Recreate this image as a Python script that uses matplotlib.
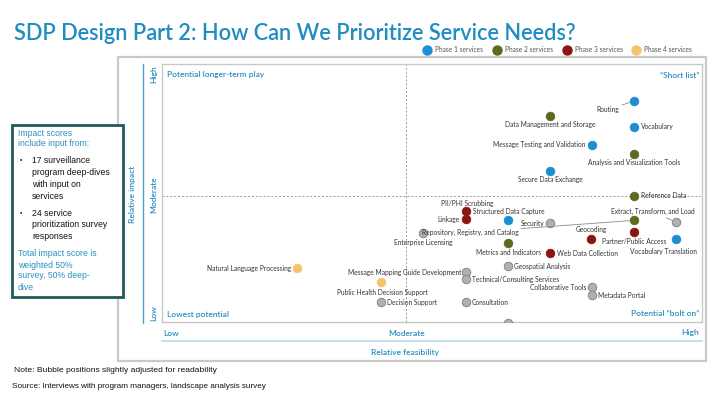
import matplotlib
matplotlib.use("Agg")
import matplotlib.pyplot as plt
from matplotlib.patches import Rectangle
from matplotlib.lines import Line2D

# ---------------- data ----------------
services = [
    "Routing", "Vocabulary", "Message Testing and Validation", "Secure Data Exchange",
    "PII/PHI Scrubbing", "Vocabulary Translation",
    "Data Management and Storage", "Analysis and Visualization Tools", "Reference Data",
    "Repository, Registry, and Catalog", "Metrics and Indicators",
    "Structured Data Capture", "Linkage", "Geocoding", "Partner/Public Access", "Web Data Collection",
    "Natural Language Processing", "Public Health Decision Support",
    "Security", "Extract, Transform, and Load", "Enterprise Licensing", "Geospatial Analysis",
    "Message Mapping Guide Development", "Technical/Consulting Services", "Collaborative Tools",
    "Metadata Portal", "Consultation", "Evaluation", "Decision Support",
]
feasibility = [8.74, 8.74, 7.96, 7.19, 6.41, 9.52,
               7.19, 8.74, 8.74, 8.74, 6.41,
               5.63, 5.63, 7.94, 8.74, 7.19,
               2.50, 4.06,
               7.19, 9.52, 4.83, 6.41, 5.63, 5.63, 7.96, 7.96, 5.63, 6.41, 4.06]
impact = [8.57, 7.57, 6.87, 5.87, 3.94, 3.20,
          7.99, 6.53, 4.90, 3.94, 3.05,
          4.29, 3.98, 3.20, 3.47, 2.66,
          2.08, 1.54,
          3.82, 3.86, 3.44, 2.16, 1.93, 1.66, 1.35, 1.04, 0.77, -0.04, 0.77]
phase = [1, 1, 1, 1, 1, 1,
         2, 2, 2, 2, 2,
         3, 3, 3, 3, 3,
         4, 4,
         0, 0, 0, 0, 0, 0, 0, 0, 0, 0, 0]
legend_labels = ["Phase 1 services", "Phase 2 services", "Phase 3 services", "Phase 4 services"]
x_levels = ["Low", "Moderate", "High"]
y_levels = ["Low", "Moderate", "High"]

# ---------------- layout / style ----------------
W, H = 720, 405
BLUE_TXT = "#2a8fc1"
phase_colors = {1: "#1b8fd2", 2: "#5b6b1e", 3: "#8b1510", 4: "#f6c36c", 0: "#b3b0ac"}
phase_edges = {1: "#1b8fd2", 2: "#5b6b1e", 3: "#8b1510", 4: "#f6c36c", 0: "#7f7f7f"}
# label placement (pixel offsets from dot, y up), ha, leader line
label_layout = {
    "Routing": (-26, -9, "center", True),
    "Vocabulary": (7, 0, "left", False),
    "Message Testing and Validation": (-6, 0, "right", False),
    "Secure Data Exchange": (0, -9, "center", False),
    "PII/PHI Scrubbing": (-41, 17, "center", False),
    "Vocabulary Translation": (-13, -12, "center", False),
    "Data Management and Storage": (0, -9, "center", False),
    "Analysis and Visualization Tools": (0, -9, "center", False),
    "Reference Data": (7, 0, "left", False),
    "Repository, Registry, and Catalog": (-164, -12, "center", True),
    "Metrics and Indicators": (0, -9, "center", False),
    "Structured Data Capture": (7, 0, "left", False),
    "Linkage": (-6, 0, "right", False),
    "Geocoding": (1, 10, "center", False),
    "Partner/Public Access": (0, -9, "center", False),
    "Web Data Collection": (7, 0, "left", False),
    "Natural Language Processing": (-6, 0, "right", False),
    "Public Health Decision Support": (1, -10, "center", False),
    "Security": (-6, 0, "right", False),
    "Extract, Transform, and Load": (-23, 11, "center", True),
    "Enterprise Licensing": (0, -9, "center", False),
    "Geospatial Analysis": (6, 0, "left", False),
    "Message Mapping Guide Development": (-5, 0, "right", False),
    "Technical/Consulting Services": (6, 0, "left", False),
    "Collaborative Tools": (-5, 0, "right", False),
    "Metadata Portal": (6, 0, "left", False),
    "Consultation": (6, 0, "left", False),
    "Evaluation": (0, 9, "center", False),
    "Decision Support": (6, 0, "left", False),
}

plt.rcParams["font.family"] = ["Lato", "DejaVu Sans"]

fig = plt.figure(figsize=(W / 100, H / 100), dpi=100)


def P(x, y):
    return x / W, 1 - y / H


# background frame
fig.patches.append(Rectangle(P(118, 361), (706 - 118) / W, (361 - 57) / H,
                             transform=fig.transFigure, fill=False,
                             edgecolor="#c9c9c9", lw=1.6, zorder=0))

# main plot area
pl, pr, pt, pb = 162, 702, 64, 322
ax = fig.add_axes([pl / W, 1 - pb / H, (pr - pl) / W, (pb - pt) / H])
ax.set_xlim(0, 10)
ax.set_ylim(0, 10)
for s in ax.spines.values():
    s.set_color("#c8c8c8")
    s.set_linewidth(1.0)
ax.set_xticks([])
ax.set_yticks([])
ax.axvline(4.52, color="#9a9a9a", lw=0.7, ls=(0, (2, 2)))
ax.axhline(4.90, color="#9a9a9a", lw=0.7, ls=(0, (2, 2)))

for name, x, y, ph in zip(services, feasibility, impact, phase):
    ax.scatter([x], [y], s=38, color=phase_colors[ph], edgecolor=phase_edges[ph],
               linewidth=0.6, zorder=3)
    dx, dy, ha, leader = label_layout[name]
    ap = dict(arrowstyle="-", color="#8c8c8c", lw=0.6, shrinkA=0, shrinkB=3) if leader else None
    ax.annotate(name, (x, y), xytext=(dx, dy), textcoords="offset pixels",
                ha=ha, va="center", fontsize=4.8, color="#333333",
                arrowprops=ap, zorder=4)

# quadrant labels
fig.text(*P(167, 75), "Potential longer-term play", fontsize=6, color=BLUE_TXT,
         fontweight="semibold", ha="left", va="center")
fig.text(*P(699, 75), "\u201cShort list\u201d", fontsize=6, color=BLUE_TXT,
         fontweight="semibold", ha="right", va="center")
fig.text(*P(167, 314), "Lowest potential", fontsize=6, color=BLUE_TXT,
         fontweight="semibold", ha="left", va="center")
fig.text(*P(699, 314), "Potential \u201cbolt on\u201d", fontsize=6, color=BLUE_TXT,
         fontweight="semibold", ha="right", va="center")

# y axis (relative impact)
fig.add_artist(Line2D([143 / W, 143 / W], [1 - 64 / H, 1 - 323 / H],
                      transform=fig.transFigure, color="#4aa3c8", lw=1.0))
for lbl, yy in zip(y_levels, [313, 195, 74]):
    fig.text(*P(154, yy), lbl, rotation=90, fontsize=6, color=BLUE_TXT,
             fontweight="semibold", ha="center", va="center")
fig.text(*P(132, 194), "Relative impact", rotation=90, fontsize=6, color=BLUE_TXT,
         fontweight="semibold", ha="center", va="center")

# x axis (relative feasibility)
for lbl, xx, ha in zip(x_levels, [163, 407, 699], ["left", "center", "right"]):
    fig.text(*P(xx, 333), lbl, fontsize=6, color=BLUE_TXT, fontweight="semibold",
             ha=ha, va="center")
fig.add_artist(Line2D([162 / W, 702 / W], [1 - 341 / H, 1 - 341 / H],
                      transform=fig.transFigure, color="#c3e1ee", lw=1.4))
fig.text(*P(405, 352), "Relative feasibility", fontsize=6, color=BLUE_TXT,
         fontweight="semibold", ha="center", va="center")

# legend
leg_x = [427, 497, 567, 636]
for i, (lbl, xx) in enumerate(zip(legend_labels, leg_x)):
    fig.add_artist(Line2D([xx / W], [1 - 50 / H], marker="o", markersize=6.5,
                          color=phase_colors[i + 1], transform=fig.transFigure, lw=0))
    fig.text(*P(xx + 8, 50), lbl, fontsize=4.8, color="#555555", ha="left", va="center")

# title
fig.text(*P(14, 33), "SDP Design Part 2: How Can We Prioritize Service Needs?",
         fontsize=15.7, color="#1f8cc2", fontweight="semibold", ha="left", va="center")

# left note box
fig.patches.append(Rectangle(P(12, 297), (123 - 12) / W, (297 - 125) / H,
                             transform=fig.transFigure, facecolor="white",
                             edgecolor="#1f5c57", lw=2.0, zorder=5))
box_font = ["Liberation Sans", "DejaVu Sans"]
fig.text(*P(18, 133), "Impact scores", fontsize=6.2, color=BLUE_TXT, family=box_font,
         ha="left", va="center", zorder=6)
fig.text(*P(18, 144), "include input from:", fontsize=6.2, color=BLUE_TXT, family=box_font,
         ha="left", va="center", zorder=6)
bullets = [("17 surveillance", "program deep-dives", "with input on", "services"),
           ("24 service", "prioritization survey", "responses")]
y0s = [161, 213]
for lines, y0 in zip(bullets, y0s):
    fig.text(*P(20, y0), "\u2022", fontsize=5, color="#222222", family=box_font,
             ha="left", va="center", zorder=6)
    for k, ln in enumerate(lines):
        fig.text(*P(32, y0 + 11.8 * k), ln, fontsize=6.2, color="#111111", family=box_font,
                 ha="left", va="center", zorder=6)
for k, ln in enumerate(["Total impact score is", "weighted 50%", "survey, 50% deep-", "dive"]):
    fig.text(*P(18, 254 + 11 * k), ln, fontsize=6.2, color=BLUE_TXT, family=box_font,
             ha="left", va="center", zorder=6)

# footer
fig.text(*P(14, 371), "Note: Bubble positions slightly adjusted for readability",
         fontsize=6.1, color="#111111", family=box_font, ha="left", va="center")
fig.text(*P(12, 387), "Source: Interviews with program managers, landscape analysis survey",
         fontsize=5.9, color="#111111", family=box_font, ha="left", va="center")

fig.savefig("out.png", dpi=100)
